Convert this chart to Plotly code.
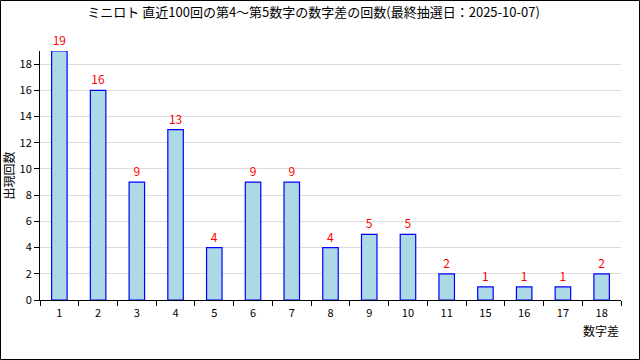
import plotly.graph_objects as go

categories = ["1", "2", "3", "4", "5", "6", "7", "8", "9", "10", "11", "15", "16", "17", "18"]
counts = [19, 16, 9, 13, 4, 9, 9, 4, 5, 5, 2, 1, 1, 1, 2]
title_text = "ミニロト 直近100回の第4～第5数字の数字差の回数(最終抽選日：2025-10-07)"
y_ticks = [0, 2, 4, 6, 8, 10, 12, 14, 16, 18]

W, H = 640, 360
ml, mr, mt, mb = 40, 19, 51, 60
pw, ph = W - ml - mr, H - mt - mb
font = "Noto Sans CJK JP, DejaVu Sans Mono, sans-serif"

fig = go.Figure(go.Bar(
    x=categories, y=counts, width=0.4,
    marker=dict(color="#add8e6", line=dict(color="#0000ff", width=1.2)),
    text=counts, textposition="outside", cliponaxis=False,
    textfont=dict(color="#ff0000", size=12, family=font),
))

fig.update_layout(
    width=W, height=H, margin=dict(l=ml, r=mr, t=mt, b=mb, autoexpand=False),
    paper_bgcolor="white", plot_bgcolor="white",
    font=dict(family=font, size=11, color="black"),
    showlegend=False, bargap=0.6,
    title=dict(text=title_text, x=0.49, xanchor="center", y=1 - 12 / H, yanchor="middle",
               font=dict(size=13, family=font)),
    xaxis=dict(type="category", showline=True, linecolor="black", linewidth=1, automargin=False,
               ticks="outside", tickson="boundaries", ticklen=5, tickcolor="black",
               ticklabelstandoff=3,
               showgrid=False, tickfont=dict(size=11)),
    yaxis=dict(range=[0, 19], tickvals=y_ticks, showline=True, linecolor="black", linewidth=1,
               automargin=False,
               ticks="outside", ticklen=5, tickcolor="black", showgrid=True, gridcolor="#dddddd",
               zeroline=False, tickfont=dict(size=11),
               title=dict(text="出現回数", font=dict(size=12), standoff=6)),
    annotations=[dict(text="数字差", xref="paper", yref="paper", x=1.0, y=-20 / ph,
                      xanchor="right", yanchor="top", showarrow=False, font=dict(size=12))],
    shapes=[dict(type="rect", xref="paper", yref="paper",
                 x0=-(ml - 0.5) / pw, x1=1 + (mr - 0.5) / pw,
                 y0=-(mb - 0.5) / ph, y1=1 + (mt - 0.5) / ph,
                 line=dict(color="black", width=1))],
)

fig.write_html("out.html")
